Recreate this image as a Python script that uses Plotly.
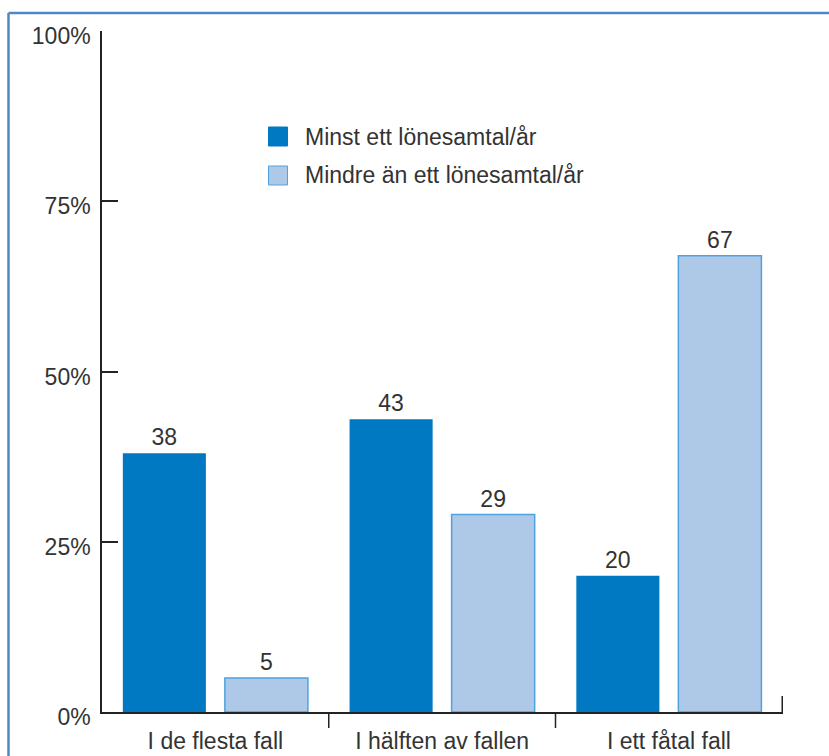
import plotly.graph_objects as go

# Categories and series values (percent)
categories = ["I de flesta fall", "I hälften av fallen", "I ett fåtal fall"]
series_names = ["Minst ett lönesamtal/år", "Mindre än ett lönesamtal/år"]
minst_ett = [38, 43, 20]
mindre_an = [5, 29, 67]
y_ticks = [0, 25, 50, 75, 100]

DARK = "#0079c2"
LIGHT = "#aec8e8"
LIGHT_EDGE = "#4ea3df"
FRAME = "#4f87c2"
TEXT = "#333333"
FONT = "Liberation Sans"
FS = 23

fig = go.Figure()
fig.add_trace(go.Bar(
    x=categories, y=minst_ett, name=series_names[0],
    marker=dict(color=DARK, line=dict(color=DARK, width=0)),
    text=[str(v) for v in minst_ett], textposition="outside",
    textfont=dict(size=FS, color=TEXT, family=FONT), cliponaxis=False,
))
fig.add_trace(go.Bar(
    x=categories, y=mindre_an, name=series_names[1],
    marker=dict(color=LIGHT, line=dict(color=LIGHT_EDGE, width=1.5)),
    text=[str(v) for v in mindre_an], textposition="outside",
    textfont=dict(size=FS, color=TEXT, family=FONT), cliponaxis=False,
))

W, H = 829, 756
L, R, T, B = 102, 46, 31, 44
pw, ph = W - L - R, H - T - B

def px_x(p):
    return (p - L) / pw

def px_y(p):
    return (H - B - p) / ph

shapes = []
# outer frame (left and top edges)
shapes.append(dict(type="line", xref="paper", yref="paper",
                   x0=px_x(8.5), x1=px_x(8.5), y0=px_y(770), y1=px_y(13),
                   line=dict(color=FRAME, width=2.5)))
shapes.append(dict(type="line", xref="paper", yref="paper",
                   x0=px_x(8.5), x1=px_x(840), y0=px_y(13), y1=px_y(13),
                   line=dict(color=FRAME, width=2.5)))
# category separators below the baseline
for b in [0.5, 1.5]:
    shapes.append(dict(type="line", xref="x", yref="paper",
                       x0=b, x1=b, y0=0, y1=-16 / ph,
                       line=dict(color="#222222", width=1.5)))
# closing tick at the right end of the baseline
shapes.append(dict(type="line", xref="x", yref="paper",
                   x0=2.5, x1=2.5, y0=0, y1=16 / ph,
                   line=dict(color="#222222", width=1.5)))

# legend swatches
legend_rows = [(series_names[0], DARK, DARK, 127, 146, 137),
               (series_names[1], LIGHT, LIGHT_EDGE, 166, 185, 175)]
annotations = []
for name, fill, edge, top, bot, mid in legend_rows:
    shapes.append(dict(type="rect", xref="paper", yref="paper",
                       x0=px_x(268.5), x1=px_x(287.5), y0=px_y(bot), y1=px_y(top),
                       fillcolor=fill, line=dict(color=edge, width=1)))
    annotations.append(dict(xref="paper", yref="paper", x=px_x(303), y=px_y(mid),
                            text=name, showarrow=False, xanchor="left", yanchor="middle",
                            font=dict(size=FS, color=TEXT, family=FONT)))

fig.update_layout(
    width=W, height=H,
    margin=dict(l=L, r=R, t=T, b=B, autoexpand=False),
    paper_bgcolor="white", plot_bgcolor="white",
    barmode="group", bargap=0.1, bargroupgap=0.186,
    showlegend=False,
    font=dict(family=FONT, size=FS, color=TEXT),
    shapes=shapes, annotations=annotations,
    xaxis=dict(
        showline=True, linecolor="#222222", linewidth=1.5,
        ticks="outside", ticklen=8, tickcolor="rgba(0,0,0,0)",
        showgrid=False, zeroline=False, automargin=False,
        tickfont=dict(size=FS, color=TEXT, family=FONT),
    ),
    yaxis=dict(
        range=[0, 100], tickvals=y_ticks, ticktext=[f"{v}%" for v in y_ticks],
        showline=True, linecolor="#222222", linewidth=1.5,
        ticks="inside", ticklen=16, tickcolor="#222222", tickwidth=1.5,
        showgrid=False, zeroline=False, automargin=False,
        ticklabelstandoff=5, ticklabelshift=5,
        tickfont=dict(size=FS, color=TEXT, family=FONT),
    ),
)

fig.write_html("out.html")
